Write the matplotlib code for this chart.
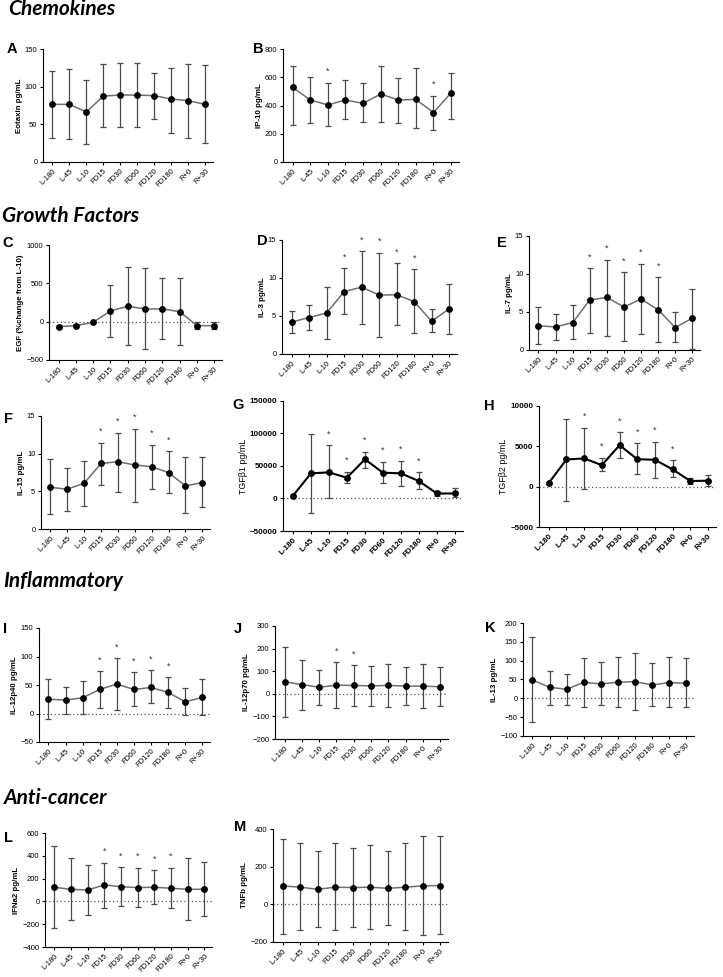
import matplotlib
matplotlib.use('Agg')
import matplotlib.pyplot as plt
import numpy as np

plt.rcParams['font.family'] = ['Liberation Sans', 'DejaVu Sans']

W, H = 723, 977

times = ['L-180', 'L-45', 'L-10', 'FD15', 'FD30', 'FD60', 'FD120', 'FD180', 'R+0', 'R+30']

# A  Eotaxin
eotaxin_mean = [76.5, 76.5, 66.4, 87.5, 88.9, 88.9, 88.0, 83.6, 81.4, 76.5]
eotaxin_lo = [31.2, 29.9, 24.2, 47.1, 46.6, 45.8, 57.2, 38.7, 32.1, 25.5]
eotaxin_hi = [120.5, 123.2, 109.5, 129.8, 131.1, 132.0, 118.4, 125.0, 129.8, 128.5]

# B  IP-10
ip10_mean = [528, 439, 404, 439, 415, 481, 439, 443, 350, 490]
ip10_lo = [263, 279, 256, 305, 286, 286, 275, 239, 230, 303]
ip10_hi = [680, 603, 561, 584, 561, 680, 596, 662, 469, 631]
ip10_stars = [2, 8]

# C  EGF
egf_mean = [-65, -52, -9, 140, 201, 166, 166, 131, -52, -52]
egf_lo = [-85, -72, -18, -205, -306, -358, -231, -306, -96, -96]
egf_hi = [-45, -32, 0, 483, 710, 697, 570, 570, -9, -9]

# D  IL-3
il3_mean = [4.2, 4.8, 5.4, 8.2, 8.8, 7.75, 7.8, 6.9, 4.3, 5.95]
il3_lo = [2.7, 3.2, 1.97, 5.2, 3.95, 2.27, 3.85, 2.75, 2.85, 2.6]
il3_hi = [5.7, 6.45, 8.8, 11.3, 13.55, 13.35, 11.95, 11.2, 5.9, 9.2]
il3_stars = [3, 4, 5, 6, 7]

# E  IL-7
il7_mean = [3.18, 3.04, 3.6, 6.57, 6.93, 5.65, 6.7, 5.3, 2.96, 4.19]
il7_lo = [0.75, 1.32, 1.46, 2.3, 1.9, 1.15, 2.07, 1.0, 1.0, 0.13]
il7_hi = [5.6, 4.8, 5.87, 10.8, 11.9, 10.28, 11.34, 9.6, 4.94, 8.07]
il7_stars = [3, 4, 5, 6, 7]

# F  IL-15
il15_mean = [5.54, 5.28, 6.07, 8.7, 8.93, 8.5, 8.27, 7.48, 5.72, 6.16]
il15_lo = [2.02, 2.33, 3.08, 5.85, 4.97, 3.65, 5.28, 4.75, 2.1, 2.86]
il15_hi = [9.24, 8.05, 9.06, 11.48, 12.8, 13.33, 11.2, 10.34, 9.6, 9.6]
il15_stars = [3, 4, 5, 6, 7]

# G  TGFb1
tgfb1_mean = [4100, 38700, 40200, 32000, 60300, 39700, 38700, 26800, 7700, 7700]
tgfb1_lo = [2600, -21600, 0, 23200, 46400, 23200, 19100, 13900, 4100, 2600]
tgfb1_hi = [5600, 99000, 82500, 41200, 72200, 56700, 58200, 40200, 11900, 15500]
tgfb1_stars = [2, 3, 4, 5, 6, 7]

# H  TGFb2
tgfb2_mean = [450, 3370, 3500, 2670, 5140, 3410, 3330, 2140, 700, 740]
tgfb2_lo = [350, -1770, -330, 1930, 3580, 1560, 1030, 1150, 290, 120]
tgfb2_hi = [550, 8440, 7330, 3580, 6790, 5430, 5560, 3250, 1030, 1400]
tgfb2_stars = [2, 3, 4, 5, 6, 7]

# I  IL-12p40
il12p40_mean = [25.2, 23.5, 27.6, 42.2, 51.6, 42.2, 45.7, 37.0, 20.5, 28.2]
il12p40_lo = [-9.4, -0.6, -0.6, 10.0, 5.9, 12.3, 18.8, 10.0, -1.8, -2.9]
il12p40_hi = [59.8, 47.0, 56.3, 74.5, 96.8, 72.0, 75.7, 63.3, 44.0, 59.8]
il12p40_stars = [3, 4, 5, 6, 7]

# J  IL-12p70
il12p70_mean = [53, 41, 29, 38, 37, 35, 37, 34, 34, 31]
il12p70_lo = [-101, -72, -50, -63, -54, -54, -59, -51, -65, -54]
il12p70_hi = [206, 151, 104, 140, 126, 122, 132, 118, 132, 118]
il12p70_stars = [3, 4]

# K  IL-13
il13_mean = [48.8, 29.3, 24.0, 42.6, 38.2, 42.6, 44.4, 35.5, 41.7, 39.9]
il13_lo = [-63, -16.9, -17.7, -22, -18.6, -23, -30, -21, -24, -24]
il13_hi = [162, 73.6, 63.9, 108, 96.7, 110, 121.6, 94, 111, 107]

# L  IFNa2
ifna2_mean = [124, 106, 100, 144, 129, 121, 124, 115, 106, 106]
ifna2_lo = [-229, -165, -115, -62, -41, -47, -26, -59, -159, -129]
ifna2_hi = [482, 379, 315, 341, 300, 297, 276, 297, 379, 344]
ifna2_stars = [3, 4, 5, 6, 7]

# M  TNFb
tnfb_mean = [98, 91, 80, 91, 89, 91, 85, 91, 98, 100]
tnfb_lo = [-155, -137, -123, -137, -123, -132, -110, -137, -164, -160]
tnfb_hi = [347, 325, 281, 325, 299, 313, 281, 325, 364, 361]


def px_axes(fig, l, t, r, b):
    return fig.add_axes([l / W, 1 - b / H, (r - l) / W, (b - t) / H])


def panel(fig, box, letter, letter_xy, ylabel, mean, lo, hi, yticks,
          stars=(), zero=False, heavy=False):
    ax = px_axes(fig, *box)
    x = np.arange(len(times))
    mean = np.asarray(mean, float)
    err = [mean - np.asarray(lo, float), np.asarray(hi, float) - mean]
    if zero:
        ax.axhline(0, color='#555555', ls=(0, (1, 2)), lw=0.9, zorder=1)
    ax.errorbar(x, mean, yerr=err, fmt='none', ecolor='#4a4a4a',
                elinewidth=0.9, capsize=2.3, capthick=0.9, zorder=2)
    if heavy:
        ax.plot(x, mean, color='black', lw=1.5, zorder=3)
    else:
        ax.plot(x, mean, color='#6e6e6e', lw=1.1, zorder=3)
    ax.plot(x, mean, 'o', color='black', ms=3.9, zorder=4)
    for i in stars:
        ax.annotate('*', xy=(i, hi[i]), xytext=(0, 8),
                    textcoords='offset points', ha='center', va='center',
                    fontsize=6.5, color='#333333')
    ax.set_xlim(-0.55, 9.45)
    ax.set_ylim(yticks[0], yticks[-1])
    ax.set_yticks(yticks)
    ax.set_xticks(x)
    fw = 'bold' if heavy else 'normal'
    fs = 5.8 if heavy else 5.5
    ax.set_xticklabels(times, rotation=45, ha='right', rotation_mode='anchor',
                       fontsize=fs, fontweight=fw)
    for lab in ax.get_yticklabels():
        lab.set_fontsize(fs)
        lab.set_fontweight(fw)
    ax.tick_params(length=2.5, width=0.8, pad=1.5)
    for s in ['top', 'right']:
        ax.spines[s].set_visible(False)
    for s in ['left', 'bottom']:
        ax.spines[s].set_linewidth(0.8)
    ax.set_ylabel(ylabel, fontsize=6.4 if heavy else 5.7,
                  fontweight='normal' if heavy else 'bold', labelpad=1.5)
    fig.text(letter_xy[0] / W, 1 - letter_xy[1] / H, letter, fontsize=10.5,
             fontweight='bold', ha='left', va='center')
    return ax


fig = plt.figure(figsize=(W / 100, H / 100), dpi=100)

head = dict(fontsize=15, fontweight='bold', fontstyle='italic',
            family=['Lato', 'DejaVu Sans'], ha='left', va='center')
fig.text(8 / W, 1 - 9 / H, 'Chemokines', **head)
fig.text(2 / W, 1 - 216 / H, 'Growth Factors', **head)
fig.text(3 / W, 1 - 581 / H, 'Inflammatory', **head)
fig.text(4 / W, 1 - 798 / H, 'Anti-cancer', **head)

panel(fig, (43, 49, 213, 162), 'A', (7, 49), 'Eotaxin pg/mL',
      eotaxin_mean, eotaxin_lo, eotaxin_hi, [0, 50, 100, 150])
panel(fig, (283, 49, 459, 162), 'B', (253, 49), 'IP-10 pg/mL',
      ip10_mean, ip10_lo, ip10_hi, [0, 200, 400, 600, 800], stars=ip10_stars)
panel(fig, (49, 245, 222, 360), 'C', (2, 243), 'EGF (%change from L-10)',
      egf_mean, egf_lo, egf_hi, [-500, 0, 500, 1000], zero=True)
panel(fig, (282, 240, 457, 354), 'D', (257, 241), 'IL-3 pg/mL',
      il3_mean, il3_lo, il3_hi, [0, 5, 10, 15], stars=il3_stars)
panel(fig, (529, 236, 700, 350), 'E', (497, 243), 'IL-7 pg/mL',
      il7_mean, il7_lo, il7_hi, [0, 5, 10, 15], stars=il7_stars)
panel(fig, (41, 416, 210, 529), 'F', (4, 419), 'IL-15 pg/mL',
      il15_mean, il15_lo, il15_hi, [0, 5, 10, 15], stars=il15_stars)
panel(fig, (283, 401, 463, 531), 'G', (232, 405), 'TGF\u03b21 pg/mL',
      tgfb1_mean, tgfb1_lo, tgfb1_hi, [-50000, 0, 50000, 100000, 150000],
      stars=tgfb1_stars, zero=True, heavy=True)
panel(fig, (539, 406, 716, 527), 'H', (484, 406), 'TGF\u03b22 pg/mL',
      tgfb2_mean, tgfb2_lo, tgfb2_hi, [-5000, 0, 5000, 10000],
      stars=tgfb2_stars, zero=True, heavy=True)
panel(fig, (39, 628, 210, 742), 'I', (3, 629), 'IL-12p40 pg/mL',
      il12p40_mean, il12p40_lo, il12p40_hi, [-50, 0, 50, 100, 150],
      stars=il12p40_stars, zero=True)
panel(fig, (275, 626, 448, 739), 'J', (234, 629), 'IL-12p70 pg/mL',
      il12p70_mean, il12p70_lo, il12p70_hi, [-200, -100, 0, 100, 200, 300],
      stars=il12p70_stars, zero=True)
panel(fig, (523, 623, 694, 736), 'K', (485, 628), 'IL-13 pg/mL',
      il13_mean, il13_lo, il13_hi, [-100, -50, 0, 50, 100, 150, 200], zero=True)
panel(fig, (45, 833, 212, 947), 'L', (4, 838), 'IFNa2 pg/mL',
      ifna2_mean, ifna2_lo, ifna2_hi, [-400, -200, 0, 200, 400, 600],
      stars=ifna2_stars, zero=True)
panel(fig, (273, 829, 448, 942), 'M', (234, 827), 'TNFb pg/mL',
      tnfb_mean, tnfb_lo, tnfb_hi, [-200, 0, 200, 400], zero=True)

fig.savefig('out.png', dpi=100)
